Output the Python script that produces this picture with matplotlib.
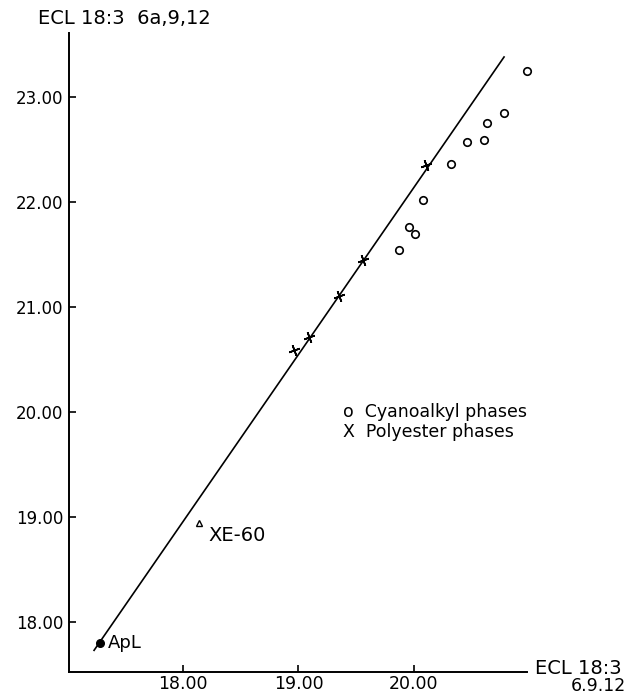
"""ECL 18:3 6a,9,12 vs ECL 18:3 6,9,12 -- redraw of the scanned figure."""
import matplotlib
matplotlib.use("Agg")
import matplotlib.pyplot as plt

# Cyanoalkyl phases (open circles)
cyano_x = [19.87, 19.96, 20.01, 20.08, 20.32, 20.46, 20.61, 20.63, 20.78, 20.98]
cyano_y = [21.54, 21.76, 21.69, 22.02, 22.36, 22.57, 22.59, 22.75, 22.85, 23.25]

# Polyester phases (crosses)
poly_x = [18.96, 19.09, 19.35, 19.56, 20.10]
poly_y = [20.59, 20.71, 21.10, 21.45, 22.35]

# single phases
xe60_x, xe60_y = [18.14], [18.94]
apl_x, apl_y = [17.28], [17.80]

# regression line end points
line_x = [17.23, 20.78]
line_y = [17.73, 23.38]

x_ticks = [18.0, 19.0, 20.0]
y_ticks = [18.0, 19.0, 20.0, 21.0, 22.0, 23.0]

FONT = "DejaVu Sans"
plt.rcParams["font.family"] = FONT

fig = plt.figure(figsize=(6.29, 6.97), dpi=100, facecolor="white")
ax = fig.add_axes([0.1097, 0.0359, 0.728, 0.917])
ax.set_xlim(17.013, 20.978)
ax.set_ylim(17.524, 23.61)

ax.plot(line_x, line_y, color="black", linewidth=1.2, zorder=2)
ax.plot(cyano_x, cyano_y, linestyle="none", marker="o", markersize=5.4,
        markerfacecolor="white", markeredgecolor="black", markeredgewidth=1.2,
        clip_on=False, zorder=3)
ax.plot(poly_x, poly_y, linestyle="none", marker=(4, 2, 20), markersize=8,
        markeredgecolor="black", markeredgewidth=1.2, clip_on=False, zorder=3)
ax.plot(xe60_x, xe60_y, linestyle="none", marker="^", markersize=5,
        markerfacecolor="white", markeredgecolor="black", markeredgewidth=1.0, zorder=3)
ax.plot(apl_x, apl_y, linestyle="none", marker="o", markersize=5.5,
        markerfacecolor="black", markeredgecolor="black", zorder=3)

ax.text(xe60_x[0] + 0.08, xe60_y[0] - 0.03, "XE-60", fontsize=14, va="top", ha="left")
ax.text(apl_x[0] + 0.07, apl_y[0], "ApL", fontsize=13, va="center", ha="left")

# legend written as text, like the original
ax.text(19.385, 20.0, "o  Cyanoalkyl phases", fontsize=12.5, va="center", ha="left")
ax.text(19.385, 19.81, "X  Polyester phases", fontsize=12.5, va="center", ha="left")

for side in ("top", "right"):
    ax.spines[side].set_visible(False)
for side in ("left", "bottom"):
    ax.spines[side].set_linewidth(1.4)

ax.set_xticks(x_ticks)
ax.set_yticks(y_ticks)
ax.set_xticklabels([f"{v:.2f}" for v in x_ticks])
ax.set_yticklabels([f"{v:.2f}" for v in y_ticks])
ax.tick_params(axis="both", direction="in", length=5, width=1.2)
ax.tick_params(axis="x", pad=2, labelsize=12.5)
ax.tick_params(axis="y", pad=4, labelsize=12)

fig.text(38 / 629, 1 - 18 / 697, "ECL 18:3  6a,9,12", fontsize=14, va="center", ha="left")
fig.text(622 / 629, 1 - 668 / 697, "ECL 18:3", fontsize=14, va="center", ha="right")
fig.text(626 / 629, 1 - 695 / 697, "6.9.12", fontsize=12.5, va="bottom", ha="right")

fig.savefig("out.png", dpi=100, facecolor="white")
